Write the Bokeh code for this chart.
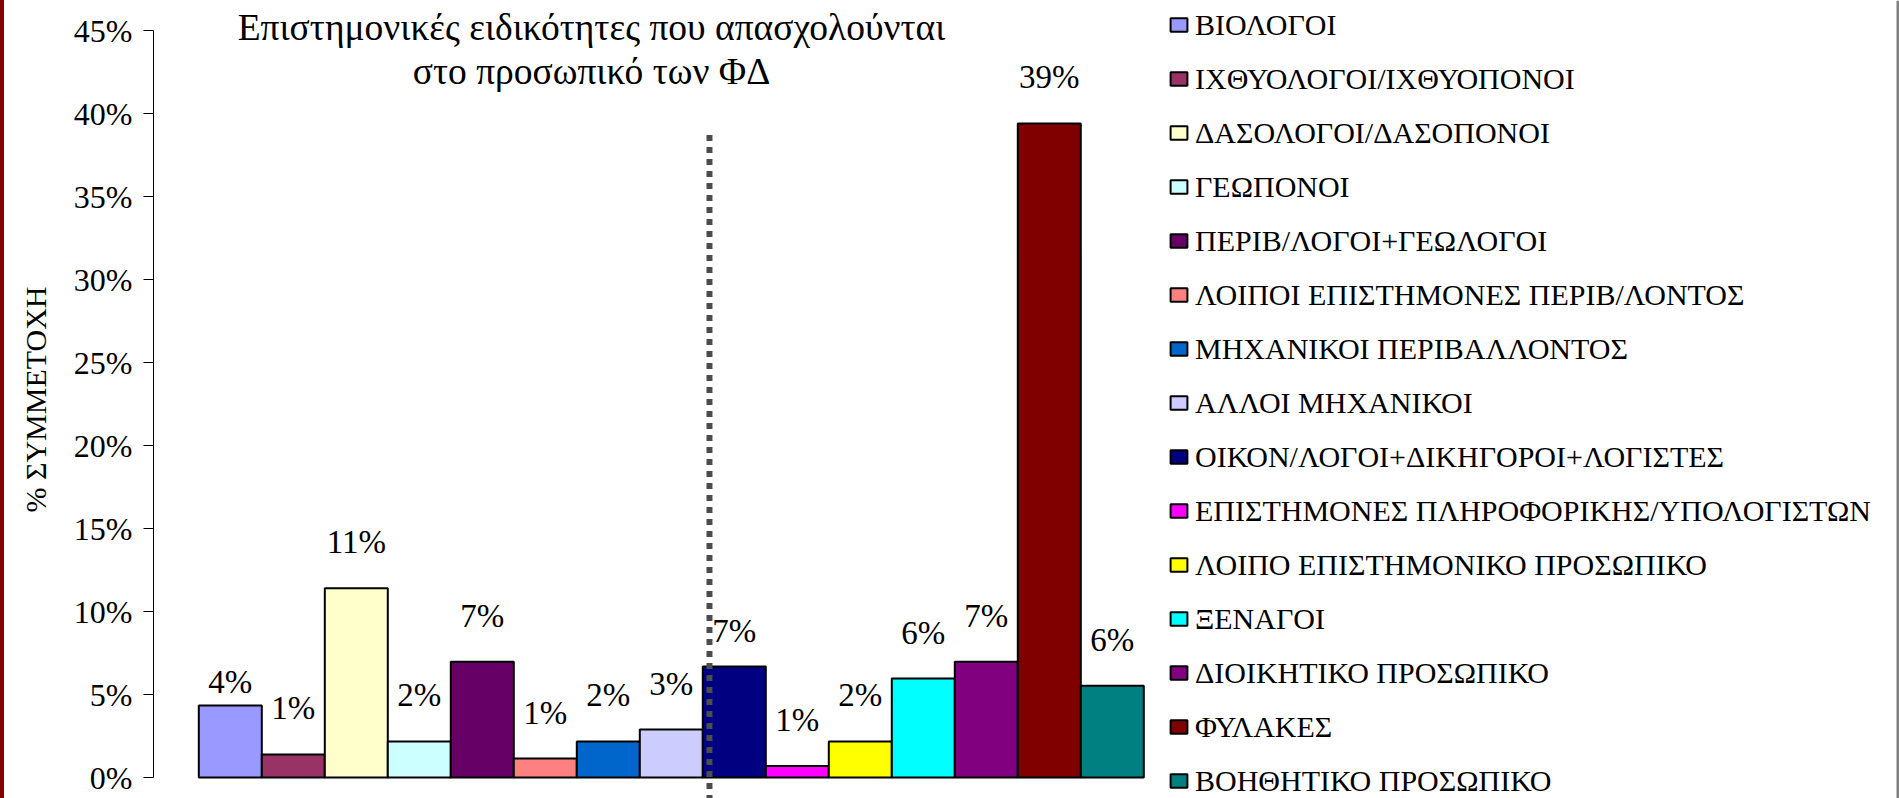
from bokeh.plotting import figure
from bokeh.models import (ColumnDataSource, Range1d, Legend, LegendItem, Label,
                          FixedTicker, NumeralTickFormatter, BoxAnnotation)
from bokeh.core.properties import value
from bokeh.embed import file_html
from bokeh.resources import INLINE

# ---------------- data ----------------
categories = [
    "ΒΙΟΛΟΓΟΙ",
    "ΙΧΘΥΟΛΟΓΟΙ/ΙΧΘΥΟΠΟΝΟΙ",
    "ΔΑΣΟΛΟΓΟΙ/ΔΑΣΟΠΟΝΟΙ",
    "ΓΕΩΠΟΝΟΙ",
    "ΠΕΡΙΒ/ΛΟΓΟΙ+ΓΕΩΛΟΓΟΙ",
    "ΛΟΙΠΟΙ ΕΠΙΣΤΗΜΟΝΕΣ ΠΕΡΙΒ/ΛΟΝΤΟΣ",
    "ΜΗΧΑΝΙΚΟΙ ΠΕΡΙΒΑΛΛΟΝΤΟΣ",
    "ΑΛΛΟΙ ΜΗΧΑΝΙΚΟΙ",
    "ΟΙΚΟΝ/ΛΟΓΟΙ+ΔΙΚΗΓΟΡΟΙ+ΛΟΓΙΣΤΕΣ",
    "ΕΠΙΣΤΗΜΟΝΕΣ ΠΛΗΡΟΦΟΡΙΚΗΣ/ΥΠΟΛΟΓΙΣΤΩΝ",
    "ΛΟΙΠΟ ΕΠΙΣΤΗΜΟΝΙΚΟ ΠΡΟΣΩΠΙΚΟ",
    "ΞΕΝΑΓΟΙ",
    "ΔΙΟΙΚΗΤΙΚΟ ΠΡΟΣΩΠΙΚΟ",
    "ΦΥΛΑΚΕΣ",
    "ΒΟΗΘΗΤΙΚΟ ΠΡΟΣΩΠΙΚΟ",
]
shares = [0.0434, 0.0139, 0.1140, 0.0217, 0.0698, 0.0114, 0.0217, 0.0289,
          0.0669, 0.0070, 0.0217, 0.0596, 0.0698, 0.3940, 0.0552]
bar_labels = ["4%", "1%", "11%", "2%", "7%", "1%", "2%", "3%",
              "7%", "1%", "2%", "6%", "7%", "39%", "6%"]
y_ticks = [0.0, 0.05, 0.10, 0.15, 0.20, 0.25, 0.30, 0.35, 0.40, 0.45]
title_lines = ["Επιστημονικές ειδικότητες που απασχολούνται",
               "στο προσωπικό των ΦΔ"]
y_title = "% ΣΥΜΜΕΤΟΧΗ"

# ---------------- styles / layout ----------------
colors = ["#9999FF", "#993366", "#FFFFCC", "#CCFFFF", "#660066", "#FF8080",
          "#0066CC", "#CCCCFF", "#000080", "#FF00FF", "#FFFF00", "#00FFFF",
          "#800080", "#800000", "#008080"]
LABEL_GAP = -46
label_nudge_px = [23, 0, 0, 0, 0, 0, 0, 0, 11, 0, 0, 0, 0, 0, 0]
FONT = "Liberation Serif"

W, H = 1899, 798
FRAME_LEFT = 153
BAR_PX = 63.0
BAR0_CENTER = 229.8          # canvas px
ZERO_Y = 777.0               # canvas px of 0%
PX_PER_UNIT = 1660.0
x_start = -(BAR0_CENTER - FRAME_LEFT) / BAR_PX
x_end = x_start + (W - FRAME_LEFT) / BAR_PX
y_end = ZERO_Y / PX_PER_UNIT
y_start = -(H - ZERO_Y) / PX_PER_UNIT

divider_x = 7.606
divider_top = 0.387

xs = list(range(len(categories)))
src = ColumnDataSource(dict(x=xs, top=shares, color=colors, cat=categories,
                            lab=bar_labels,
                            nudge=[LABEL_GAP + n for n in label_nudge_px]))

p = figure(width=W, height=H, x_range=Range1d(x_start, x_end),
           y_range=Range1d(y_start, y_end), output_backend="svg",
           toolbar_location=None, x_axis_location=None,
           min_border_left=FRAME_LEFT, min_border_right=0,
           min_border_top=0, min_border_bottom=0)
p.outline_line_color = None
p.grid.visible = False
p.background_fill_color = "white"
p.border_fill_color = None
# page frame: dark red stripe at the very left (shows through the transparent border)
p.styles = {"background": "linear-gradient(to right, #800000 0px, #800000 4px, #ffffff 4px, #ffffff 100%)"}

# grey stripe at the right edge
p.add_layout(BoxAnnotation(left=W - FRAME_LEFT - 3, right=W - FRAME_LEFT,
                           left_units="screen", right_units="screen",
                           fill_color="#7f7f7f", fill_alpha=1, line_alpha=0,
                           level="overlay"))

bars = p.vbar(x="x", top="top", bottom=0, width=1.0, source=src,
              fill_color="color", line_color="black", line_width=2)

p.text(x="x", y="top", text="lab", source=src, y_offset="nudge",
       text_align="center", text_baseline="middle",
       text_font=value(FONT), text_font_size="33px", text_color="black")

p.segment(x0=[divider_x], y0=[divider_top], x1=[divider_x], y1=[y_start],
          line_color="#4d4d4d", line_width=6, line_dash="6 6")

ax = p.yaxis[0]
ax.bounds = (0, 0.45)
ax.ticker = FixedTicker(ticks=y_ticks)
ax.formatter = NumeralTickFormatter(format="0%")
ax.minor_tick_line_color = None
ax.major_tick_in = 0
ax.major_tick_out = 10
ax.major_tick_line_color = "black"
ax.axis_line_color = "black"
ax.major_label_standoff = 11
ax.major_label_text_font = FONT
ax.major_label_text_font_size = "32px"
ax.major_label_text_color = "black"
ax.axis_label = y_title
ax.axis_label_text_font = FONT
ax.axis_label_text_font_size = "30px"
ax.axis_label_text_font_style = "normal"
ax.axis_label_text_color = "black"
ax.axis_label_standoff = 19

TITLE_CENTER_Y = 27.0
TITLE_LINE_STEP = 43.6
for i, line in enumerate(title_lines):
    p.add_layout(Label(x=591 - FRAME_LEFT, y=H - TITLE_CENTER_Y - TITLE_LINE_STEP * i,
                       x_units="screen", y_units="screen",
                       text=line, text_align="center", text_baseline="middle",
                       text_font=FONT, text_font_size="37.5px", text_color="black"))

items = [LegendItem(label=c, renderers=[bars], index=i) for i, c in enumerate(categories)]
legend = Legend(items=items, location=(1168 - FRAME_LEFT, 0), padding=0, margin=0,
                border_line_color=None, background_fill_alpha=0,
                glyph_width=21, glyph_height=17, label_standoff=6,
                label_height=35, spacing=19,
                label_text_font=FONT, label_text_font_size="30px",
                label_text_color="black")
p.add_layout(legend)

open("out.html", "w").write(file_html(p, INLINE))
